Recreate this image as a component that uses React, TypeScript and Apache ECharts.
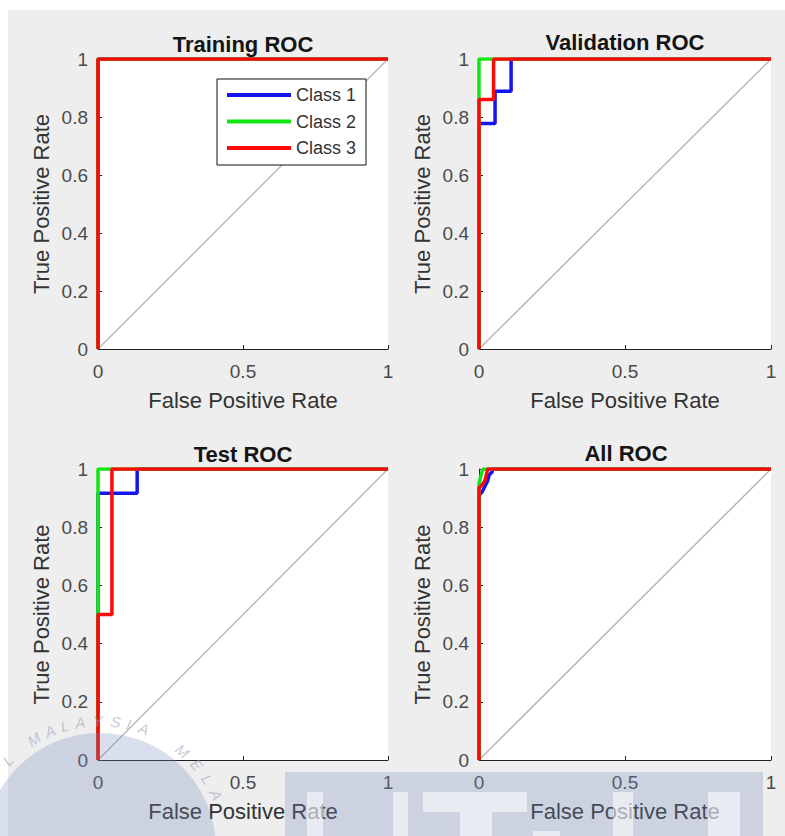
import React, { useEffect, useRef } from "react";
import * as echarts from "echarts";

// ---- data ----
const panelTitles = ["Training ROC", "Validation ROC", "Test ROC", "All ROC"];
const classNames = ["Class 1", "Class 2", "Class 3"];
const classColors = ["#1414ee", "#12e612", "#ff0808"];
const xAxisName = "False Positive Rate";
const yAxisName = "True Positive Rate";
const diagonal = [[0, 0], [1, 1]];

const trainingClass1 = [[0, 0], [0, 1], [1, 1]];
const trainingClass2 = [[0, 0], [0, 1], [1, 1]];
const trainingClass3 = [[0, 0], [0, 1], [1, 1]];

const validationClass1 = [[0, 0], [0, 0.778], [0.055, 0.778], [0.055, 0.889], [0.11, 0.889], [0.11, 1], [1, 1]];
const validationClass2 = [[0, 0], [0, 1], [1, 1]];
const validationClass3 = [[0, 0], [0, 0.86], [0.05, 0.86], [0.05, 1], [1, 1]];

const testClass1 = [[0, 0], [0, 0.917], [0.135, 0.917], [0.135, 1], [1, 1]];
const testClass2 = [[0, 0], [0, 1], [1, 1]];
const testClass3 = [[0, 0], [0, 0.5], [0.048, 0.5], [0.048, 1], [1, 1]];

const allClass1 = [[0, 0], [0, 0.91], [0.01, 0.92], [0.02, 0.94], [0.03, 0.96], [0.035, 0.98], [0.045, 0.99], [0.045, 1], [1, 1]];
const allClass2 = [[0, 0], [0, 0.95], [0.005, 0.97], [0.01, 0.99], [0.015, 1], [1, 1]];
const allClass3 = [[0, 0], [0, 0.935], [0.01, 0.945], [0.02, 0.96], [0.025, 0.98], [0.03, 1], [1, 1]];

const panelData = [
  [trainingClass1, trainingClass2, trainingClass3],
  [validationClass1, validationClass2, validationClass3],
  [testClass1, testClass2, testClass3],
  [allClass1, allClass2, allClass3],
];

// ---- layout ----
const grids = [
  { left: 98, top: 59, width: 290, height: 290 },
  { left: 479, top: 59, width: 292, height: 290 },
  { left: 98, top: 469, width: 290, height: 291 },
  { left: 479, top: 469, width: 292, height: 291 },
];
const titlePos = [
  { x: 243, y: 33 },
  { x: 625, y: 31 },
  { x: 243, y: 443 },
  { x: 626, y: 442 },
];

const FONT = "'Liberation Sans', Arial, Helvetica, sans-serif";

function buildOption() {
  const xAxis: any[] = [];
  const yAxis: any[] = [];
  const series: any[] = [];
  grids.forEach((g, i) => {
    xAxis.push({
      type: "value",
      gridIndex: i,
      min: 0,
      max: 1,
      interval: 0.5,
      name: xAxisName,
      nameLocation: "middle",
      nameGap: 40,
      nameTextStyle: { fontSize: 22, color: "#333", fontFamily: FONT },
      axisLine: { show: true, lineStyle: { color: "#222", width: 1 } },
      axisTick: { show: true, inside: true, length: 4, lineStyle: { color: "#222" } },
      axisLabel: { fontSize: 19, color: "#4a4a4a", margin: 13, fontFamily: FONT },
      splitLine: { show: false },
    });
    yAxis.push({
      type: "value",
      gridIndex: i,
      min: 0,
      max: 1,
      interval: 0.2,
      name: yAxisName,
      nameLocation: "middle",
      nameGap: 46,
      nameTextStyle: { fontSize: 22, color: "#333", fontFamily: FONT },
      axisLine: { show: true, lineStyle: { color: "#222", width: 1 } },
      axisTick: { show: true, inside: true, length: 4, lineStyle: { color: "#222" } },
      axisLabel: { fontSize: 19, color: "#4a4a4a", margin: 10, fontFamily: FONT },
      splitLine: { show: false },
    });
    series.push({
      type: "line",
      name: "diagonal",
      xAxisIndex: i,
      yAxisIndex: i,
      data: diagonal,
      symbol: "none",
      silent: true,
      lineStyle: { color: "#b8b8b8", width: 1.5 },
    });
    panelData[i].forEach((d, k) => {
      series.push({
        type: "line",
        name: classNames[k],
        xAxisIndex: i,
        yAxisIndex: i,
        data: d,
        symbol: "none",
        silent: true,
        color: classColors[k],
        itemStyle: { color: classColors[k] },
        lineStyle: { color: classColors[k], width: 3.5 },
      });
    });
  });

  const graphics: any[] = [
    { type: "rect", z: -10, shape: { x: 8, y: 10, width: 777, height: 826 }, style: { fill: "#eeeeee" }, silent: true },
  ];

  // watermark: circle + arc letters + UTeM block
  const cx = 100, cy = 849, r = 116;
  graphics.push({
    type: "circle",
    z: 100,
    shape: { cx, cy, r },
    style: { fill: "rgba(120,140,190,0.28)" },
    silent: true,
  });
  const arcLetters = [
    { ch: "L", a: 136 },
    { ch: "M", a: 121 },
    { ch: "A", a: 113 },
    { ch: "L", a: 106 },
    { ch: "A", a: 99 },
    { ch: "Y", a: 91 },
    { ch: "S", a: 83 },
    { ch: "I", a: 77 },
    { ch: "A", a: 70 },
    { ch: "M", a: 50 },
    { ch: "E", a: 41 },
    { ch: "L", a: 33 },
    { ch: "A", a: 25 },
  ];
  arcLetters.forEach((l) => {
    const t = (l.a * Math.PI) / 180;
    const rr = 128;
    graphics.push({
      type: "text",
      z: 100,
      x: cx + rr * Math.cos(t),
      y: cy - rr * Math.sin(t),
      rotation: t - Math.PI / 2,
      silent: true,
      style: {
        text: l.ch,
        fontSize: 15,
        fontStyle: "italic",
        fontFamily: FONT,
        fill: "rgba(150,158,180,0.55)",
        align: "center",
        verticalAlign: "middle",
      },
    });
  });
  graphics.push({
    type: "rect",
    z: 100,
    shape: { x: 285, y: 772, width: 478, height: 64 },
    style: { fill: "rgba(120,140,190,0.28)" },
    silent: true,
  });
  const letterBlocks = [
    [307, 792, 16, 44],
    [393, 792, 15, 44],
    [423, 792, 104, 20],
    [460, 812, 32, 24],
    [533, 831, 27, 5],
    [613, 792, 20, 44],
    [708, 792, 32, 44],
  ];
  letterBlocks.forEach((b) => {
    graphics.push({
      type: "rect",
      z: 101,
      shape: { x: b[0], y: b[1], width: b[2], height: b[3] },
      style: { fill: "rgba(255,255,255,0.55)" },
      silent: true,
    });
  });

  return {
    animation: false,
    backgroundColor: "#ffffff",
    title: panelTitles.map((t, i) => ({
      text: t,
      left: titlePos[i].x,
      top: titlePos[i].y,
      textAlign: "center",
      padding: 0,
      textStyle: { fontSize: 22, fontWeight: "bold", color: "#141414", fontFamily: FONT },
    })),
    legend: {
      show: true,
      orient: "vertical",
      left: 217,
      top: 79,
      data: classNames,
      icon: "rect",
      itemWidth: 64,
      itemHeight: 4,
      itemGap: 6.5,
      padding: [6, 10, 7, 10],
      borderColor: "#111",
      borderWidth: 1,
      borderRadius: 0,
      backgroundColor: "#ffffff",
      selectedMode: false,
      textStyle: { fontSize: 18, color: "#333", lineHeight: 20, fontFamily: FONT },
    },
    grid: grids.map((g) => ({
      ...g,
      show: true,
      backgroundColor: "#ffffff",
      borderWidth: 0,
      containLabel: false,
    })),
    xAxis,
    yAxis,
    series,
    graphic: { elements: graphics },
  };
}

export default function App() {
  const ref = useRef<HTMLDivElement>(null);
  useEffect(() => {
    if (!ref.current) return;
    const chart = echarts.init(ref.current, null, { renderer: "svg" });
    chart.setOption(buildOption() as any);
    return () => chart.dispose();
  }, []);
  return (
    <div
      ref={ref}
      style={{ position: "absolute", left: 0, top: 0, width: 785, height: 836 }}
    />
  );
}
